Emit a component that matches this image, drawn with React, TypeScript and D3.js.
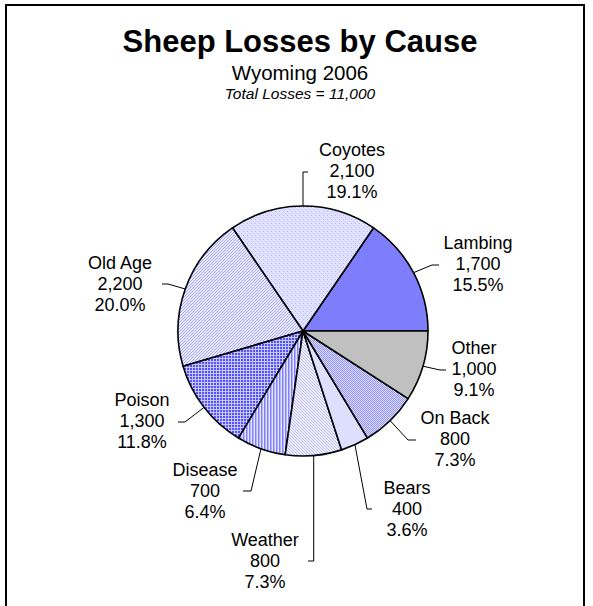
import React from "react";
import * as d3 from "d3";

const categories = ["Lambing", "Coyotes", "Old Age", "Poison", "Disease", "Weather", "Bears", "On Back", "Other"];
const lossValues = [1700, 2100, 2200, 1300, 700, 800, 400, 800, 1000];
const valueLabels = ["1,700", "2,100", "2,200", "1,300", "700", "800", "400", "800", "1,000"];
const percentLabels = ["15.5%", "19.1%", "20.0%", "11.8%", "6.4%", "7.3%", "3.6%", "7.3%", "9.1%"];
const titleText = "Sheep Losses by Cause";
const subtitleText = "Wyoming 2006";
const totalText = "Total Losses = 11,000";

// layout: label centre x, first line centre y, leader elbow (ex, ey) and tick end tx
const labelLayout = [
  { x: 478, y: 243, ex: 432, ey: 265, tx: 439 },
  { x: 352, y: 150, ex: null, ey: 172, tx: 308 },
  { x: 120, y: 263, ex: 168, ey: 284, tx: 162 },
  { x: 142, y: 400, ex: 185, ey: 422, tx: 178 },
  { x: 205, y: 470, ex: 251, ey: 491, tx: 243 },
  { x: 265, y: 540, ex: null, ey: 561, tx: 308 },
  { x: 407, y: 488, ex: 367, ey: 509, tx: 372 },
  { x: 455, y: 418, ex: 408, ey: 440, tx: 416 },
  { x: 474, y: 348, ex: 440, ey: 370, tx: 446 },
];
const fills = ["url(#pLam)", "url(#pCoy)", "url(#pOld)", "url(#pPoi)", "url(#pDis)", "url(#pWea)", "url(#pBea)", "url(#pOnb)", "#C0C0C0"];

export default function App() {
  const W = 593, H = 606;
  const cx = 303, cy = 331, R = 125;
  const font = "Arial, 'Liberation Sans', Helvetica, sans-serif";
  const pie = d3.pie<number>().sort(null).value((d) => d)
    .startAngle(Math.PI / 2).endAngle(Math.PI / 2 - 2 * Math.PI);
  const arcs = pie(lossValues);
  const arcGen = d3.arc<d3.PieArcDatum<number>>().innerRadius(0).outerRadius(R);
  const lineH = 21;
  const fs = 18;

  return (
    <svg width={W} height={H} style={{ position: "absolute", left: 0, top: 0, background: "#fff" }}>
      <defs>
        <pattern id="pLam" width="2" height="2" patternUnits="userSpaceOnUse">
          <rect width="2" height="2" fill="#8080FF" />
          <rect width="1" height="1" fill="#7A7AF8" />
        </pattern>
        <pattern id="pCoy" width="4" height="4" patternUnits="userSpaceOnUse">
          <rect width="4" height="4" fill="#E0E0FF" />
          <rect x="0" y="0" width="1" height="1" fill="#B4B4F4" />
          <rect x="2" y="2" width="1" height="1" fill="#C4C4F8" />
        </pattern>
        <pattern id="pOld" width="3" height="3" patternUnits="userSpaceOnUse">
          <rect width="3" height="3" fill="#ECECFF" />
          <path d="M-1,1 l2,-2 M0,3 l3,-3 M2,4 l2,-2" stroke="#9A9AFF" strokeWidth="0.9" />
        </pattern>
        <pattern id="pPoi" width="3" height="3" patternUnits="userSpaceOnUse">
          <rect width="3" height="3" fill="#5050FF" />
          <path d="M0,0.5 H3 M0.5,0 V3" stroke="#C8C8FF" strokeWidth="1" />
        </pattern>
        <pattern id="pDis" width="3" height="3" patternUnits="userSpaceOnUse">
          <rect width="3" height="3" fill="#E6E6FF" />
          <rect x="0" y="0" width="1.5" height="3" fill="#8080FF" />
        </pattern>
        <pattern id="pWea" width="3" height="3" patternUnits="userSpaceOnUse">
          <rect width="3" height="3" fill="#F0F0FF" />
          <path d="M-1,2 l2,2 M0,0 l3,3 M2,-1 l2,2" stroke="#A8A8FF" strokeWidth="0.8" />
        </pattern>
        <pattern id="pBea" width="2" height="2" patternUnits="userSpaceOnUse">
          <rect width="2" height="2" fill="#DEDEFF" />
        </pattern>
        <pattern id="pOnb" width="2" height="2" patternUnits="userSpaceOnUse">
          <rect width="2" height="2" fill="#E4E4FF" />
          <rect x="0" y="0" width="1" height="1" fill="#8C8CFF" />
          <rect x="1" y="1" width="1" height="1" fill="#8C8CFF" />
        </pattern>
      </defs>
      <rect x={6} y={5} width={578} height={620} fill="none" stroke="#000" strokeWidth={2} />
      <g fontFamily={font} textAnchor="middle" fill="#000">
        <text x={300} y={52} fontSize={31} fontWeight="bold">{titleText}</text>
        <text x={300} y={80} fontSize={20.5}>{subtitleText}</text>
        <text x={300} y={99} fontSize={15.5} fontStyle="italic">{totalText}</text>
      </g>
      <g transform={`translate(${cx},${cy})`}>
        {arcs.map((a, i) => (
          <path key={i} d={arcGen(a) || ""} fill={fills[i]} stroke="#000" strokeWidth={1.6} strokeLinejoin="round" />
        ))}
      </g>
      {arcs.map((a, i) => {
        const mid = (a.startAngle + a.endAngle) / 2;
        const px = cx + R * Math.sin(mid);
        const py = cy - R * Math.cos(mid);
        const L = labelLayout[i];
        const ex = L.ex == null ? px : L.ex;
        return (
          <path key={"l" + i} d={`M${px},${py}L${ex},${L.ey}L${L.tx},${L.ey}`} fill="none" stroke="#000" strokeWidth={1} />
        );
      })}
      <g fontFamily={font} fontSize={fs} textAnchor="middle" fill="#000">
        {categories.map((c, i) => {
          const L = labelLayout[i];
          return (
            <text key={c} x={L.x} y={L.y} dominantBaseline="central">
              <tspan x={L.x} dy={0}>{c}</tspan>
              <tspan x={L.x} dy={lineH}>{valueLabels[i]}</tspan>
              <tspan x={L.x} dy={lineH}>{percentLabels[i]}</tspan>
            </text>
          );
        })}
      </g>
    </svg>
  );
}
